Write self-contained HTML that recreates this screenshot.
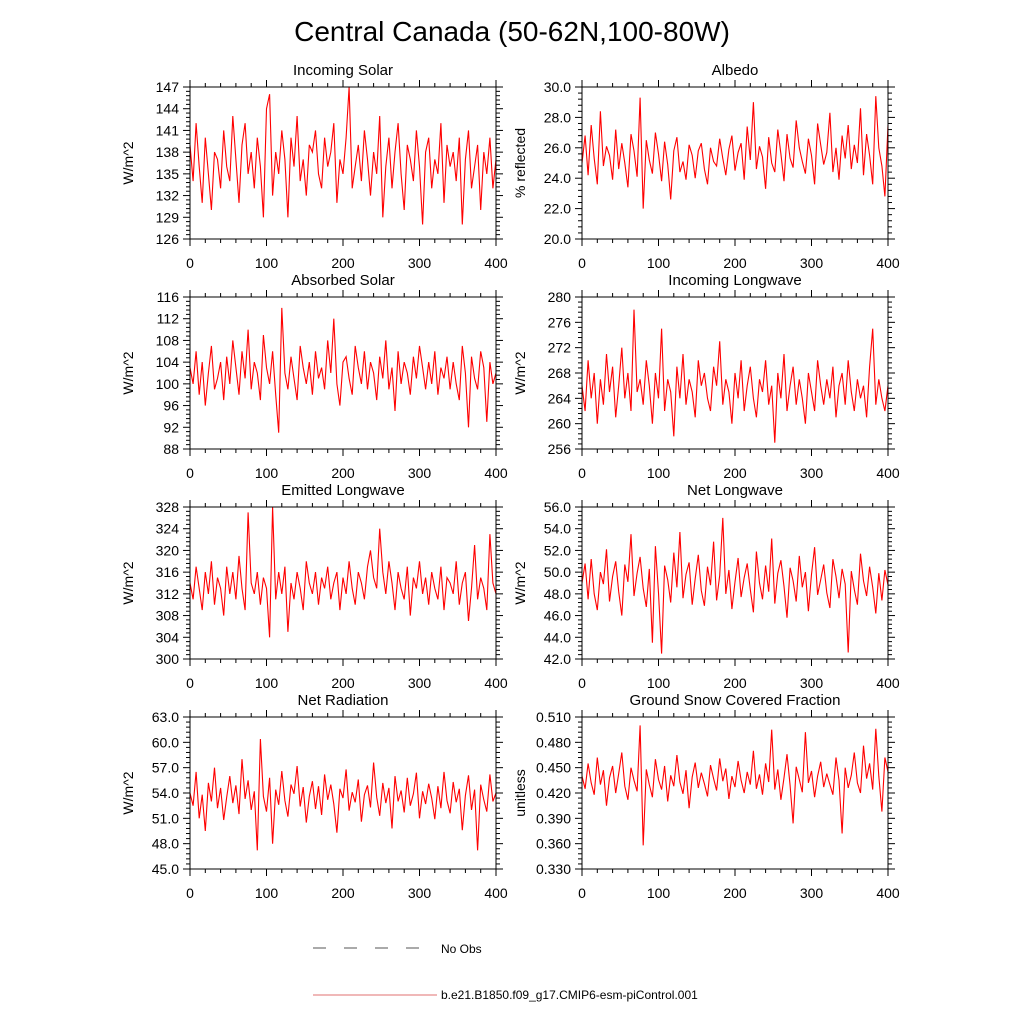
<!DOCTYPE html>
<html><head><meta charset="utf-8"><style>
body{margin:0;background:#fff}
svg{display:block;font-family:"Liberation Sans",sans-serif}
</style></head><body>
<svg id="fig" width="1024" height="1024" xmlns="http://www.w3.org/2000/svg">
<text x="512" y="41" font-size="28" text-anchor="middle">Central Canada (50-62N,100-80W)</text>
<g>
<line x1="313" y1="948" x2="430" y2="948" stroke="#555" stroke-width="1" stroke-dasharray="13,18"/>
<text x="441" y="953" font-size="12">No Obs</text>
<line x1="313" y1="995" x2="437" y2="995" stroke="#e07070" stroke-width="1"/>
<text x="441" y="999" font-size="12">b.e21.B1850.f09_g17.CMIP6-esm-piControl.001</text>
</g>
</svg>
<script>
const xTicks=[0,100,200,300,400];
const incomingSolar=[139,134,142,136,131,140,135,130,138,137,133,141,136,134,143,137,131,139,142,135,
138,133,140,136,129,144,146,132,138,135,141,137,129,140,136,143,134,137,132,139,
138,141,135,133,140,136,138,142,131,137,135,140,147,133,136,139,134,141,137,132,
138,135,143,129,136,140,133,138,142,135,130,139,137,134,141,136,128,138,140,133,
137,135,142,131,139,136,138,134,140,128,137,141,133,136,139,130,138,135,140,133,137];
const albedo=[25.0,26.8,24.2,27.5,25.3,23.6,28.4,24.8,26.1,25.5,23.9,27.2,24.6,26.3,25.0,23.4,26.9,25.8,24.1,29.3,
22.0,26.5,25.2,24.3,27.0,25.6,23.8,26.4,24.9,22.6,25.8,26.7,24.4,25.1,23.9,26.2,25.5,24.0,25.8,26.3,
24.6,23.6,26.0,25.1,24.8,26.6,25.3,24.2,25.9,26.8,24.5,25.7,26.3,23.9,27.4,25.2,29.0,24.6,26.1,25.4,
23.3,26.7,25.0,24.4,27.2,25.6,23.8,26.9,25.3,24.7,27.8,26.0,25.1,24.3,26.6,25.5,23.6,27.6,26.2,24.9,
25.7,28.3,24.4,26.0,23.9,26.8,25.3,27.5,24.6,26.2,25.0,28.6,24.2,26.9,25.5,23.6,29.4,26.0,24.8,22.8,27.5];
const absorbedSolar=[103,100,106,98,104,96,102,107,99,101,104,97,105,100,108,103,98,106,101,110,
99,104,102,97,109,103,100,106,98,91,114,102,99,105,101,97,107,103,100,104,
98,106,101,103,99,108,102,112,100,96,104,105,101,98,107,103,100,106,99,104,
102,97,105,101,108,99,103,95,106,100,104,102,98,105,101,107,103,99,104,100,
106,98,103,101,105,99,104,100,97,107,102,92,105,101,99,106,103,93,104,100,102];
const incomingLW=[266,262,270,264,268,260,267,263,271,265,269,261,266,272,264,268,262,278,265,267,
263,270,266,260,268,264,275,262,267,265,258,269,264,271,263,267,265,261,270,266,
268,264,262,269,266,273,263,267,265,260,268,264,270,262,266,269,264,261,267,265,
270,263,266,257,268,264,271,262,266,269,263,267,264,260,268,265,262,270,266,263,
267,264,269,261,266,268,263,270,265,262,267,264,266,261,269,275,263,267,264,262,266];
const emittedLW=[314,311,317,313,309,316,312,318,310,315,313,308,317,312,316,311,319,313,309,327,
314,312,316,310,315,313,304,328,311,316,312,317,305,314,311,316,313,309,318,314,
312,316,310,315,313,317,311,314,316,309,315,312,318,313,310,316,314,311,317,320,
315,313,324,316,312,318,314,309,316,313,311,317,308,315,313,318,312,315,310,316,
313,311,317,309,315,314,312,318,310,314,316,307,313,321,311,315,313,309,323,314,312];
const netLW=[49.0,50.8,47.5,51.2,48.0,46.5,50.0,48.9,52.1,47.3,49.6,51.0,48.2,46.0,50.7,49.1,53.5,47.8,49.9,51.4,
48.5,46.8,50.3,43.5,52.4,48.1,42.5,50.6,49.3,47.2,51.8,48.6,53.7,47.6,49.8,50.9,47.0,49.4,51.6,48.3,
46.9,50.5,48.8,52.8,47.4,49.7,55.0,48.0,50.2,46.6,49.1,51.3,47.7,49.5,50.8,48.4,46.3,51.9,49.0,47.5,
50.6,48.2,53.1,47.1,49.9,51.1,48.7,45.8,50.4,49.2,47.3,51.5,48.6,50.0,46.4,49.8,52.3,47.9,49.3,50.7,
48.1,46.7,51.2,49.6,47.6,50.3,48.9,42.6,50.1,48.4,47.0,51.7,49.2,47.8,50.5,48.6,46.2,49.9,47.4,50.2,48.8];
const netRad=[54.0,52.5,56.5,51.0,53.8,49.5,55.2,53.0,57.0,52.2,54.6,50.8,53.5,56.0,52.8,54.9,51.5,58.0,53.3,55.5,
52.0,54.2,47.2,60.4,53.6,51.8,55.8,48.0,54.4,52.6,56.6,53.1,51.2,55.0,53.9,57.2,52.4,54.7,50.5,53.6,
55.4,52.1,54.8,51.4,56.2,53.2,55.0,52.7,49.3,54.5,53.4,56.8,51.9,54.1,52.9,55.6,50.6,53.8,54.9,52.3,
57.6,53.5,51.3,55.2,52.8,54.6,49.8,56.0,53.0,54.3,51.7,55.8,52.5,53.9,56.4,51.0,54.2,52.7,55.1,53.4,
50.9,54.8,52.2,56.5,53.1,51.6,55.3,52.9,54.5,49.6,53.7,56.1,52.0,54.4,47.2,55.0,53.2,51.8,56.2,53.0,54.0];
const snowFrac=[0.440,0.425,0.455,0.432,0.418,0.462,0.430,0.447,0.405,0.438,0.452,0.420,0.443,0.468,0.428,0.412,0.450,0.435,0.422,0.500,
0.358,0.448,0.430,0.415,0.460,0.436,0.424,0.452,0.410,0.441,0.428,0.465,0.433,0.419,0.447,0.402,0.439,0.456,0.426,0.444,
0.431,0.416,0.453,0.437,0.423,0.461,0.434,0.449,0.413,0.440,0.427,0.458,0.435,0.420,0.445,0.430,0.470,0.425,0.442,0.418,
0.455,0.433,0.495,0.424,0.448,0.412,0.438,0.466,0.429,0.384,0.451,0.436,0.421,0.492,0.432,0.446,0.415,0.440,0.457,0.427,
0.443,0.430,0.418,0.462,0.435,0.372,0.450,0.426,0.441,0.468,0.432,0.420,0.476,0.437,0.455,0.424,0.496,0.440,0.398,0.462,0.445];
const titles=["Incoming Solar","Albedo","Absorbed Solar","Incoming Longwave","Emitted Longwave","Net Longwave","Net Radiation","Ground Snow Covered Fraction"];
const yLabels=["W/m^2","% reflected","W/m^2","W/m^2","W/m^2","W/m^2","W/m^2","unitless"];
const yMins=[126,20,88,256,300,42,45,0.33];
const yMaxs=[147,30,116,280,328,56,63,0.51];
const ySteps=[3,2,4,4,4,2,3,0.03];
const yDec=[0,1,0,0,0,1,1,3];
const series=[incomingSolar,albedo,absorbedSolar,incomingLW,emittedLW,netLW,netRad,snowFrac];

const NS="http://www.w3.org/2000/svg";
const svg=document.getElementById('fig');
function mk(tag,attrs,parent){const e=document.createElementNS(NS,tag);for(const k in attrs)e.setAttribute(k,attrs[k]);(parent||svg).appendChild(e);return e;}
const lefts=[190,582],W=306,H=152,tops=[87,297,507,717];
for(let p=0;p<8;p++){
  const L=lefts[p%2],T=tops[Math.floor(p/2)],B=T+H,R=L+W;
  const g=mk('g',{});
  
  
  const ymin=yMins[p],ymax=yMaxs[p];
  const xs=v=>L+v/400*W, ys=v=>B-(v-ymin)/(ymax-ymin)*H;
  const d=series[p];
  let pts=d.map((v,i)=>xs(i*400/(d.length-1)).toFixed(1)+','+ys(v).toFixed(1)).join(' ');
  const pl=mk('polyline',{points:pts,fill:'none',stroke:'#ff0000','stroke-width':1.1},g);
  
  
  const fr=mk('rect',{x:L,y:T,width:W,height:H,fill:'none',stroke:'#000','stroke-width':1},g);
  
  
  for(let v=0;v<=400;v+=20){
    const x=xs(v),maj=v%100===0,len=maj?7:4;
    mk('line',{x1:x,y1:B,x2:x,y2:B+len,stroke:'#000'},g);
    mk('line',{x1:x,y1:T,x2:x,y2:T-len,stroke:'#000'},g);
  }
  xTicks.forEach(v=>{const t=mk('text',{x:xs(v),y:B+29,'font-size':14,'text-anchor':'middle'},g);t.textContent=v;
    
    });
  const st=ySteps[p],n=Math.round((ymax-ymin)/st);
  for(let i=0;i<=n*5;i++){
    const v=ymin+i*st/5,y=ys(v),maj=i%5===0,len=maj?7:4;
    mk('line',{x1:L,y1:y,x2:L-len,y2:y,stroke:'#000'},g);
    mk('line',{x1:R,y1:y,x2:R+len,y2:y,stroke:'#000'},g);
  }
  for(let i=0;i<=n;i++){
    const v=ymin+i*st;
    const t=mk('text',{x:L-11,y:ys(v)+5,'font-size':14,'text-anchor':'end'},g);
    t.textContent=v.toFixed(yDec[p]);
    
    
  }
  const tt=mk('text',{x:L+W/2,y:T-12,'font-size':15,'text-anchor':'middle'},g);
  tt.textContent=titles[p];
  
  
  const yl=mk('text',{x:0,y:0,'font-size':14,'text-anchor':'middle',transform:`translate(${L-57},${T+H/2}) rotate(-90)`},g);
  yl.textContent=yLabels[p];
  
  
}
</script>
</body></html>
